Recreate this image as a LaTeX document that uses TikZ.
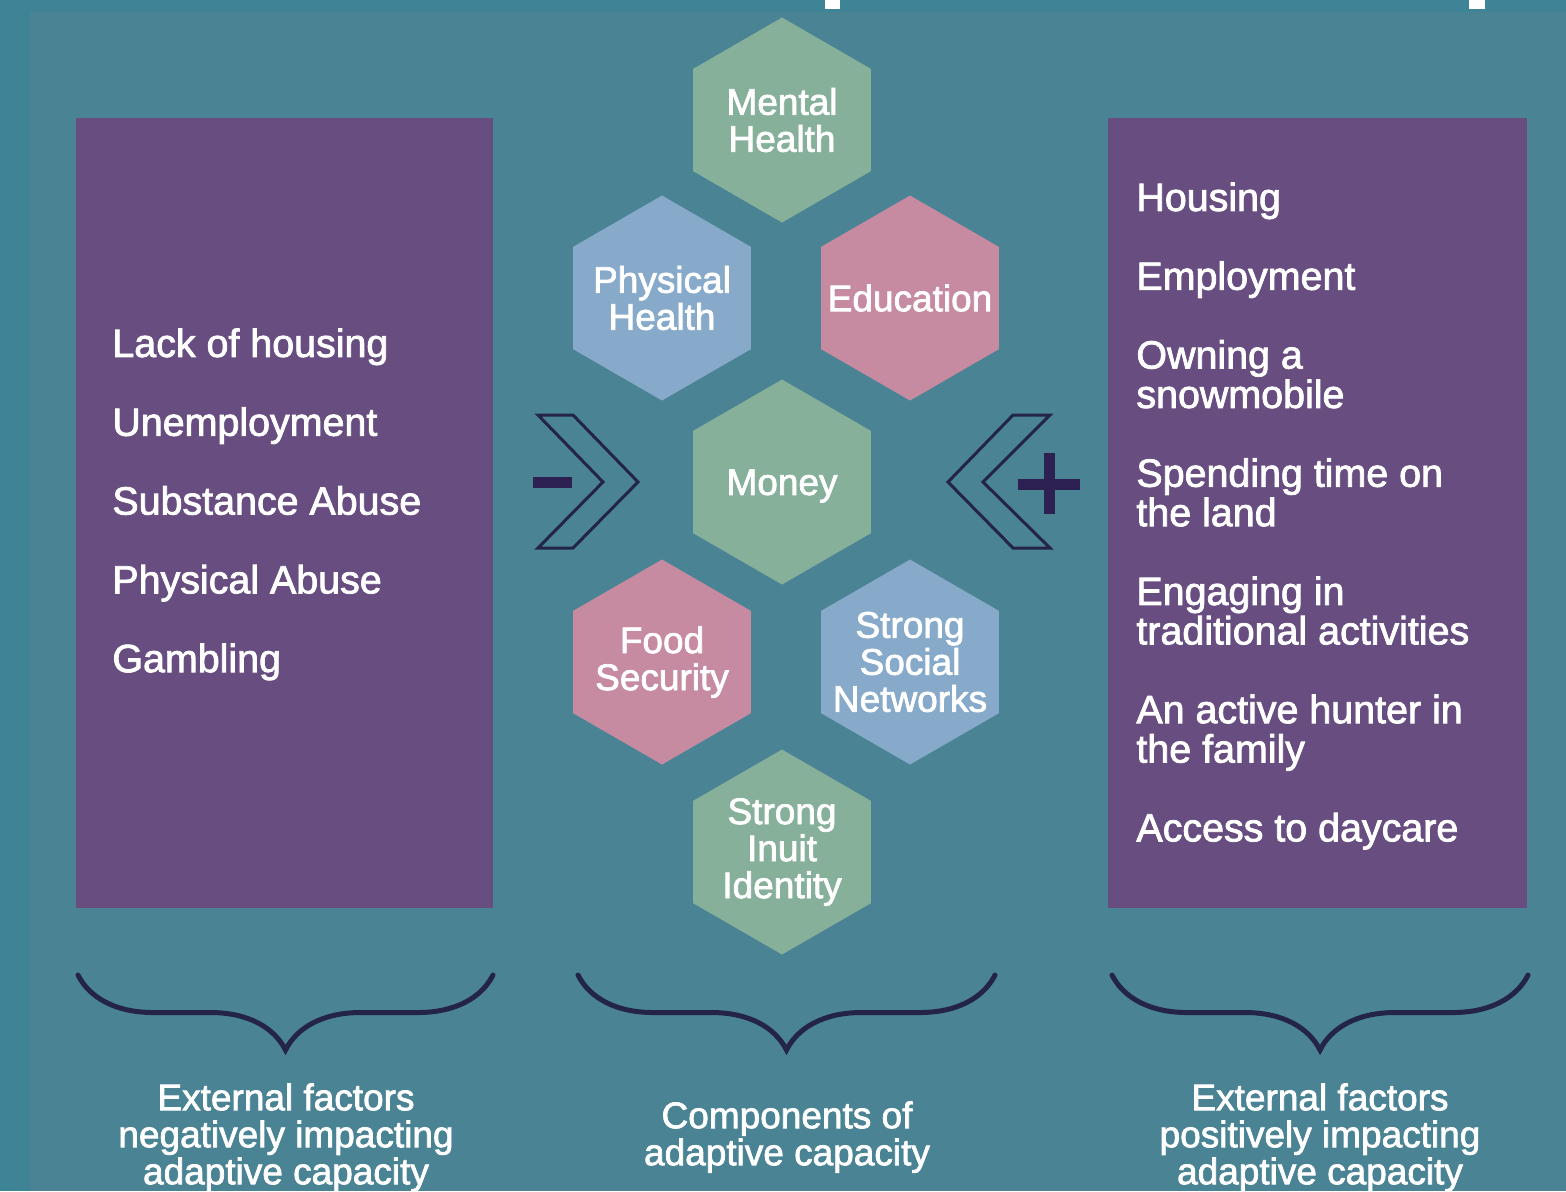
\documentclass[tikz,border=0pt]{standalone}
\usepackage{fontspec}
\newfontfamily\lbl{Liberation Sans}[FakeBold=2]
\usepackage{tikz}
\usetikzlibrary{shapes.geometric,decorations.pathreplacing,positioning}
\definecolor{Outer}{HTML}{3F8396}
\definecolor{Inner}{HTML}{4A8394}
\definecolor{Plum}{HTML}{684E80}
\definecolor{HexG}{HTML}{86B09A}
\definecolor{HexB}{HTML}{87AACA}
\definecolor{HexP}{HTML}{C68BA1}
\definecolor{Navy}{HTML}{232448}
\definecolor{Sign}{HTML}{2C2152}

\begin{document}
\begin{tikzpicture}[x=0.5pt,y=-0.5pt,
 hex/.style={regular polygon,regular polygon sides=6,shape border rotate=30,minimum size=102.5pt,inner sep=0pt,draw=none},
 ht/.style={text=white,align=center,inner sep=0pt,font=\lbl\fontsize{18.5}{18.5}\selectfont},
 lst/.style={text=white,align=left,anchor=north west,inner sep=0pt,font=\lbl\fontsize{19.7}{19.7}\selectfont},
 captxt/.style={text=white,align=center,inner sep=0pt,font=\lbl\fontsize{18.5}{18.5}\selectfont},
 chev/.style={draw=Navy,line width=1.5pt,line join=miter},
 sgn/.style={draw=Sign,line width=5.5pt},
 brc/.style={draw=Navy,line width=2.5pt,line cap=round,decorate,decoration={brace,mirror,amplitude=37.5pt}}
]
\useasboundingbox (0,0) rectangle (1566,1191);
\fill[Outer] (0,0) rectangle (1566,1191);
\fill[Inner] (30,12) rectangle (1566,1191);
\fill[white] (825,0) rectangle (840,9);\fill[white] (1469,0) rectangle (1485,9);
\fill[Plum] (76,118) rectangle (493,908);
\fill[Plum] (1108,118) rectangle (1527,908);
% factor lists
\node[lst] (neg) at (112,328) {Lack of housing\\[19.7pt]Unemployment\\[19.7pt]Substance Abuse\\[19.7pt]Physical Abuse\\[19.7pt]Gambling};
\node[lst] (pos) at (1136,182) {Housing\\[19.7pt]Employment\\[19.7pt]Owning a\\snowmobile\\[19.7pt]Spending time on\\the land\\[19.7pt]Engaging in\\traditional activities\\[19.7pt]An active hunter in\\the family\\[19.7pt]Access to daycare};
% components
\node[hex,fill=HexG] (mental) at (782,120) {};
\node[hex,fill=HexB] (phys) at (662,298) {};
\node[hex,fill=HexP] (edu) at (910,298) {};
\node[hex,fill=HexG] (money) at (782,482) {};
\node[hex,fill=HexP] (food) at (662,662) {};
\node[hex,fill=HexB] (social) at (910,662) {};
\node[hex,fill=HexG] (inuit) at (782,852) {};
\node[ht] at (mental) {Mental\\Health};
\node[ht] at (phys) {Physical\\Health};
\node[ht] at (edu) {Education};
\node[ht] at ([yshift=-2pt]money) {Money};
\node[ht] at (food) {Food\\Security};
\node[ht] at (social) {Strong\\Social\\Networks};
\node[ht] at (inuit) {Strong\\Inuit\\Identity};
% chevrons and signs
\draw[chev] (538,415)--(573,415)--(638,482)--(573,548)--(538,548)--(603,482)--cycle;
\draw[chev] (1050,415)--(1013,415)--(948,482)--(1013,548)--(1050,548)--(983,482)--cycle;
\draw[sgn] (533,482)--(572,482);
\draw[sgn] (1018,484)--(1080,484);\draw[sgn] (1049,453)--(1049,514);
% braces and captions
\coordinate (negL) at (78,975);\coordinate (negR) at (493,975);\coordinate (negtip) at (286,1050);
\coordinate (comL) at (578,975);\coordinate (comR) at (995,975);\coordinate (comtip) at (787,1050);
\coordinate (posL) at (1112,975);\coordinate (posR) at (1528,975);\coordinate (postip) at (1320,1050);
\draw[brc] (negL)--(negR);\draw[brc] (comL)--(comR);\draw[brc] (posL)--(posR);
\node[captxt,below=16.5pt of negtip] (negcap) {External factors\\negatively impacting\\adaptive capacity};
\node[captxt,below=25.5pt of comtip] (comcap) {Components of\\adaptive capacity};
\node[captxt,below=16.5pt of postip] (poscap) {External factors\\positively impacting\\adaptive capacity};
\end{tikzpicture}
\end{document}
